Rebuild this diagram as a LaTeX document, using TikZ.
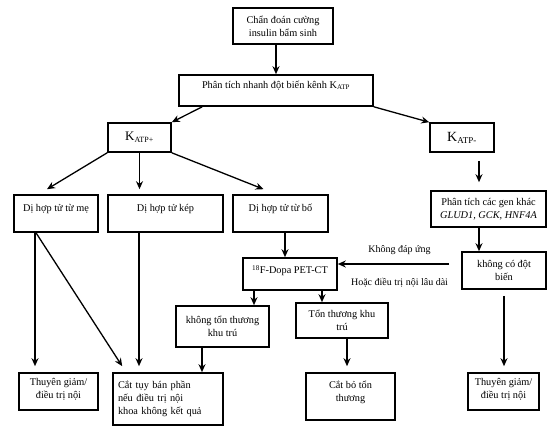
\documentclass[tikz,border=0pt]{standalone}
\usepackage{fontspec}
\setmainfont{Liberation Serif}
\usepackage{tikz}
\usetikzlibrary{arrows.meta}

\tikzset{
  box/.style={draw, line width=1.6pt, align=center, inner sep=2pt, font=\fontsize{10.3}{13}\selectfont},
  arr/.style={-{Stealth[length=8pt,width=7pt]}, line width=1.3pt},
  lbl/.style={font=\fontsize{10}{12}\selectfont},
}

\begin{document}
\begin{tikzpicture}[x=1pt, y=-1pt]
    \useasboundingbox (0,0) rectangle (554,430);
    % top of the chart
    \node[box, minimum width=100pt, minimum height=36pt] (diag) at (283,26) {Chẩn đoán cường\\insulin bẩm sinh};
    \node[box, minimum width=194pt, minimum height=31pt] (rapid) at (276,90.5) {Phân tích nhanh đột biến kênh K\textsubscript{\fontsize{7}{8}\selectfont ATP}\\[-1pt]\mbox{}};
    \node[box, minimum width=63pt, minimum height=29pt, font=\fontsize{13}{15}\selectfont] (katpp) at (139.5,137.5) {K\textsubscript{\fontsize{8}{9}\selectfont ATP+}};
    \node[box, minimum width=64pt, minimum height=29pt, font=\fontsize{14}{16}\selectfont] (katpm) at (462,137.5) {K\textsubscript{\fontsize{9}{10}\selectfont ATP-}};
    % second row
    \node[box, minimum width=84pt, minimum height=37pt] (me) at (56,213.5) {Dị hợp tử từ mẹ\\[-2pt]\mbox{}};
    \node[box, minimum width=115pt, minimum height=37pt] (kep) at (165.5,213.5) {Dị hợp tử kép\\[-2pt]\mbox{}};
    \node[box, minimum width=95pt, minimum height=37pt] (bo) at (280.5,213.5) {Dị hợp tử từ bố\\[-2pt]\mbox{}};
    \node[box, minimum width=115pt, minimum height=36pt] (genes) at (488.5,209) {Phân tích các gen khác\\\textit{GLUD1, GCK, HNF4A}};
    \node[box, minimum width=84pt, minimum height=37pt] (nomut) at (504,270.5) {không có đột\\biến};
    \node[box, minimum width=94pt, minimum height=32pt] (pet) at (290,274) {\textsuperscript{18}F-Dopa PET-CT\\[-4pt]\mbox{}};
    \node[box, minimum width=93pt, minimum height=41pt] (nolesion) at (222.5,326.5) {không tổn thương\\khu trú};
    \node[box, minimum width=92pt, minimum height=35pt] (lesion) at (342,320.5) {Tổn thương khu\\trú};
    % bottom row
    \node[box, minimum width=79pt, minimum height=37pt] (remL) at (58.5,391.5) {Thuyên giảm/\\điều trị nội\\[-6pt]\mbox{}};
    \node[box, minimum width=110pt, minimum height=52pt, text width=100pt, align=left] (pancr) at (168,399) {Cắt tụy bán phần\\nếu điều trị nội\\khoa không kết quả};
    \node[box, minimum width=89pt, minimum height=47pt] (excise) at (350.5,396.5) {Cắt bỏ tổn\\thương\\[-2pt]\mbox{}};
    \node[box, minimum width=71pt, minimum height=37pt] (remR) at (503.5,391.5) {Thuyên giảm/\\điều trị nội\\[-6pt]\mbox{}};

    \draw[arr] (rapid.north |- diag.south) -- (rapid.north);
    \draw[arr] ([xshift=24pt]rapid.south west) -- (katpp.north east);
    \draw[arr] (rapid.south east) -- (katpm.north west);
    \draw[arr] (katpp.south west) -- ([xshift=-9pt,yshift=5pt]me.north);
    \draw[arr, shorten >=5pt] (katpp.south) -- (katpp.south |- kep.north);
    \draw[arr] (katpp.south east) -- ([xshift=-17pt,yshift=5pt]bo.north);
    \draw[arr, shorten <=8pt, shorten >=8pt] ([xshift=17pt]katpm.south) -- ([xshift=-9.5pt]genes.north);
    \draw[arr] ([xshift=-9.5pt]genes.south) -- ([xshift=-9.5pt]genes.south |- nomut.north);
    \draw[arr, shorten <=12pt] ([yshift=6.5pt]nomut.west) -- ([yshift=6.5pt]nomut.west -| pet.east)
        node[lbl, midway, above=5pt] {Không đáp ứng}
        node[lbl, midway, below=10pt] {Hoặc điều trị nội lâu dài};
    \draw[arr] ([xshift=4.5pt]bo.south) -- ([xshift=4.5pt]bo.south |- pet.north);
    \draw[arr] ([xshift=-36pt]pet.south) -- ([xshift=-36pt]pet.south |- nolesion.north);
    \draw[arr] ([xshift=32pt]pet.south) -- ([xshift=32pt]pet.south |- lesion.north);
    \draw[arr] ([xshift=-20.5pt]nolesion.south) -- ([xshift=-20.5pt]nolesion.south |- pancr.north);
    \draw[arr, shorten >=6pt] ([xshift=5pt]lesion.south) -- ([xshift=5pt]lesion.south |- excise.north);
    \draw[arr, shorten >=6pt] ([xshift=-21pt]me.south) -- ([xshift=-21pt]me.south |- remL.north);
    \draw[arr] ([xshift=-20pt]me.south) -- ([xshift=10pt,yshift=6pt]pancr.north west);
    \draw[arr, shorten >=6pt] ([xshift=-26.5pt]kep.south) -- ([xshift=-26.5pt]kep.south |- pancr.north);
    \draw[arr, shorten <=6pt, shorten >=6pt] (nomut.south) -- (nomut.south |- remR.north);
\end{tikzpicture}
\end{document}
